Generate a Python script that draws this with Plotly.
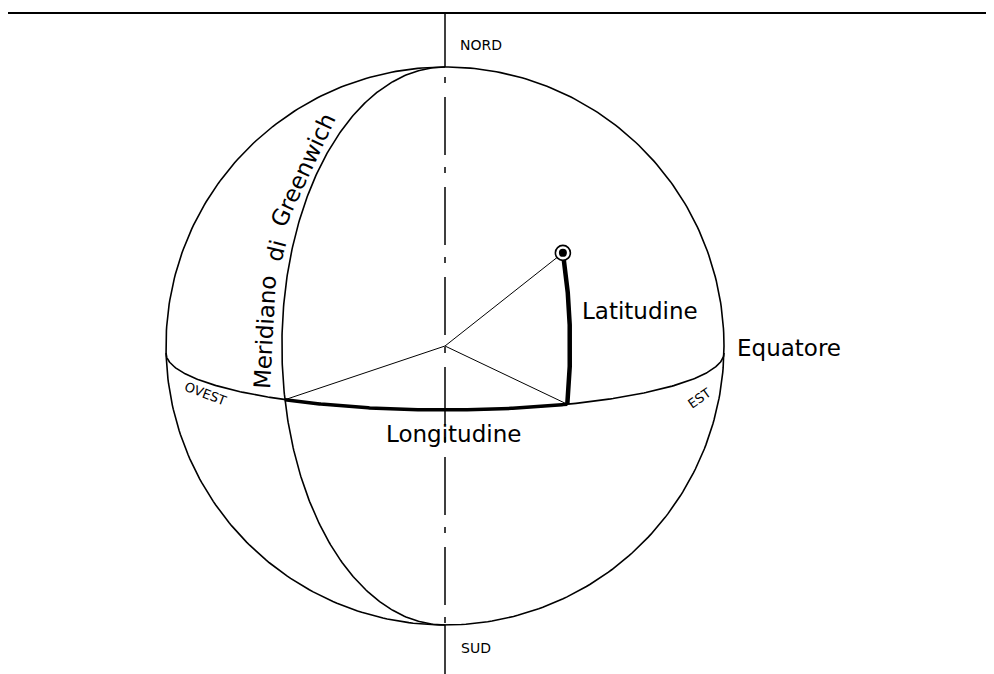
import numpy as np
import plotly.graph_objects as go

# ---- diagram parameters (pixel units) ----
SPHERE_CENTER = [445, 346]        # x, y of the sphere centre
SPHERE_RADIUS = 279
EQUATOR_CENTER_Y = 353
EQUATOR_MINOR = 57                # apparent half-height of the equator ellipse
LON_GREENWICH_DEG = -35           # view-relative longitude of Greenwich meridian
LON_POINT_DEG = 26                # view-relative longitude of the marked place
LAT_POINT_DEG = 19.5              # latitude parameter of the marked place
FRAME_TOP_Y = 13
AXIS_DASH_START = 77
AXIS_DASH_END = 625

LABEL_TEXTS = ["NORD", "SUD", "OVEST", "EST", "Equatore", "Latitudine",
               "Longitudine", "Meridiano", "di", "Greenwich"]

cx, cy = SPHERE_CENTER
R = SPHERE_RADIUS
PAGE_OFFSET = 8   # default body margin of the html page


def equator_xy(lon_deg):
    lon = np.radians(lon_deg)
    return cx + R * np.sin(lon), EQUATOR_CENTER_Y + EQUATOR_MINOR * np.cos(lon)


def meridian_xy(lon_deg, t_deg):
    xe, ye = equator_xy(lon_deg)
    te = np.arcsin((cy - ye) / R)
    am = (xe - cx) / np.cos(te)
    t = np.radians(t_deg)
    return cx + am * np.cos(t), cy - R * np.sin(t), np.degrees(te)


fig = go.Figure()


def line(x, y, width, dash="solid"):
    fig.add_trace(go.Scatter(x=x, y=y, mode="lines",
                             line=dict(color="black", width=width, dash=dash),
                             hoverinfo="skip", showlegend=False))


# frame top line
line([8, 1002], [FRAME_TOP_Y, FRAME_TOP_Y], 2)

# outline circle
th = np.linspace(0, 2 * np.pi, 400)
line(cx + R * np.cos(th), cy + R * np.sin(th), 1.6)

# front half of equator
lons = np.linspace(-90, 90, 300)
ex, ey = equator_xy(lons)
line(ex, ey, 1.6)

# Greenwich meridian
ts = np.linspace(-90, 90, 300)
gx, gy, _ = meridian_xy(LON_GREENWICH_DEG, ts)
line(gx, gy, 1.6)

# polar axis (solid outside, dash-dot inside)
line([cx, cx], [FRAME_TOP_Y, cy - R], 1.5)
line([cx, cx], [cy + R, 690], 1.5)
line([cx, cx], [AXIS_DASH_START, AXIS_DASH_END], 1.5, dash="6px,14px,58px,12px")

# radii from centre
g_eq = equator_xy(LON_GREENWICH_DEG)
p_eq = equator_xy(LON_POINT_DEG)
px, py, te = meridian_xy(LON_POINT_DEG, LAT_POINT_DEG)
for (x1, y1) in [g_eq, p_eq, (px, py)]:
    line([cx, x1], [cy, y1], 1)

# longitude arc (bold along equator)
lx, ly = equator_xy(np.linspace(LON_GREENWICH_DEG, LON_POINT_DEG, 200))
line(lx, ly, 3.5)

# latitude arc (bold along the place's meridian)
_, _, te = meridian_xy(LON_POINT_DEG, 0)
ax_, ay_, _ = meridian_xy(LON_POINT_DEG, np.linspace(te, LAT_POINT_DEG, 200))
line(ax_, ay_, 4.5)

# marked place
fig.add_trace(go.Scatter(x=[px], y=[py], mode="markers",
                         marker=dict(size=15, color="white",
                                     line=dict(color="black", width=1.6)),
                         hoverinfo="skip", showlegend=False))
fig.add_trace(go.Scatter(x=[px], y=[py], mode="markers",
                         marker=dict(size=8, color="black"),
                         hoverinfo="skip", showlegend=False))

FONT = "DejaVu Sans"
label_pos = {
    "NORD": (481, 45, 14, 0),
    "SUD": (476, 648, 14, 0),
    "OVEST": (205, 393, 13, 21),
    "EST": (699, 398, 13, -35),
    "Equatore": (789, 348, 23, 0),
    "Latitudine": (640, 311, 23, 0),
    "Longitudine": (453, 434, 23, 0),
    "Meridiano": (265, 332, 23, -87),
    "di": (276, 251, 23, -76),
    "Greenwich": (303, 170, 23, -65),
}
for txt in LABEL_TEXTS:
    x, y, s, ang = label_pos[txt]
    fig.add_annotation(x=x, y=y, text=txt, showarrow=False, textangle=ang,
                       xanchor="center", yanchor="middle",
                       font=dict(family=FONT, size=s, color="black"))

fig.update_layout(
    width=994, height=674, autosize=False,
    margin=dict(l=0, r=0, t=0, b=0),
    paper_bgcolor="white", plot_bgcolor="white",
    xaxis=dict(range=[PAGE_OFFSET, 994 + PAGE_OFFSET], visible=False, fixedrange=True),
    yaxis=dict(range=[674 + PAGE_OFFSET, PAGE_OFFSET], visible=False, fixedrange=True),
)

fig.write_html("out.html")
